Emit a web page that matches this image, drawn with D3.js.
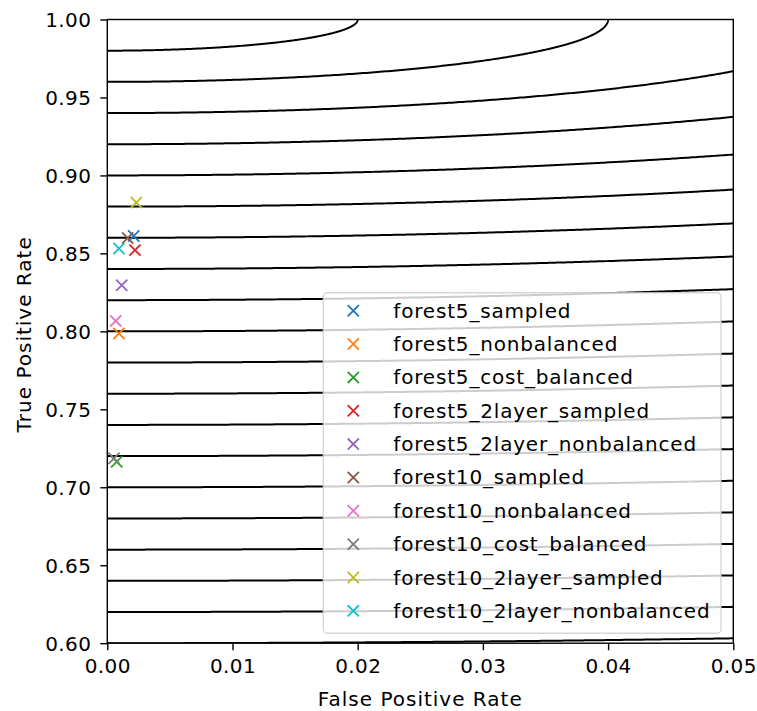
<!DOCTYPE html>
<html>
<head>
<meta charset="utf-8">
<script src="https://cdn.jsdelivr.net/npm/d3@7"></script>
<style>
  html, body { margin: 0; padding: 0; background: #fff; }
  svg { display: block; font-family: "DejaVu Sans", sans-serif; }
</style>
</head>
<body>
<svg id="chart" width="757" height="711"></svg>
<script>
// ---- data ----
const seriesNames = [
  "forest5_sampled", "forest5_nonbalanced", "forest5_cost_balanced",
  "forest5_2layer_sampled", "forest5_2layer_nonbalanced", "forest10_sampled",
  "forest10_nonbalanced", "forest10_cost_balanced", "forest10_2layer_sampled",
  "forest10_2layer_nonbalanced"
];
const fprValues = [0.00211, 0.00093, 0.00075, 0.00221, 0.00115, 0.00163, 0.00067, 0.00054, 0.00232, 0.00093];
const tprValues = [0.8612, 0.7986, 0.7164, 0.8521, 0.8296, 0.8599, 0.8067, 0.7186, 0.8827, 0.8531];
const seriesColors = ["#1f77b4", "#ff7f0e", "#2ca02c", "#d62728", "#9467bd",
                      "#8c564b", "#e377c2", "#7f7f7f", "#bcbd22", "#17becf"];
// contour levels: distance from the perfect classifier point (FPR=0, TPR=1)
const contourLevels = [0.02, 0.04, 0.06, 0.08, 0.10, 0.12, 0.14, 0.16, 0.18, 0.20,
                       0.22, 0.24, 0.26, 0.28, 0.30, 0.32, 0.34, 0.36, 0.38, 0.40];
const xTicks = [0.00, 0.01, 0.02, 0.03, 0.04, 0.05];
const yTicks = [0.60, 0.65, 0.70, 0.75, 0.80, 0.85, 0.90, 0.95, 1.00];
const xDomain = [0, 0.05];
const yDomain = [0.6, 1.0];

(function () {
// ---- layout ----
const pL = 107.3, pR = 733.3, pT = 19.5, pB = 643.2;
const svg = d3.select("#chart");
const x = d3.scaleLinear().domain(xDomain).range([pL, pR]);
const y = d3.scaleLinear().domain(yDomain).range([pB, pT]);

svg.append("defs").append("clipPath").attr("id", "plotclip")
  .append("rect").attr("x", pL).attr("y", pT)
  .attr("width", pR - pL).attr("height", pB - pT);

// ---- contour lines (level sets of distance to (0,1)) ----
const contourG = svg.append("g").attr("clip-path", "url(#plotclip)");
const line = d3.line().x(d => x(d[0])).y(d => y(d[1]));
contourLevels.forEach(r => {
  const thetaMax = r <= xDomain[1] ? Math.PI / 2 : Math.asin(xDomain[1] / r);
  const pts = d3.range(0, 241).map(i => {
    const t = thetaMax * i / 240;
    return [r * Math.sin(t), 1 - r * Math.cos(t)];
  });
  contourG.append("path").attr("d", line(pts))
    .attr("fill", "none").attr("stroke", "#000").attr("stroke-width", 2);
});

// ---- scatter markers ----
const mk = 5.6;
function xMarker(g, cx, cy, color, sw) {
  g.append("path")
    .attr("d", `M${cx - mk},${cy - mk}L${cx + mk},${cy + mk}M${cx - mk},${cy + mk}L${cx + mk},${cy - mk}`)
    .attr("stroke", color).attr("stroke-width", sw).attr("fill", "none");
}
const markG = svg.append("g");
seriesNames.forEach((name, i) => {
  xMarker(markG, x(fprValues[i]), y(tprValues[i]), seriesColors[i], 1.8);
});

// ---- axes ----
const xAxis = d3.axisBottom(x).tickValues(xTicks).tickFormat(d3.format(".2f"))
  .tickSizeInner(7).tickSizeOuter(0).tickPadding(9);
const yAxis = d3.axisLeft(y).tickValues(yTicks).tickFormat(d3.format(".2f"))
  .tickSizeInner(7).tickSizeOuter(0).tickPadding(9);
const gx = svg.append("g").attr("transform", `translate(0,${pB})`).call(xAxis);
const gy = svg.append("g").attr("transform", `translate(${pL},0)`).call(yAxis);
[gx, gy].forEach(g => {
  g.select(".domain").remove();
  g.selectAll(".tick line").attr("stroke", "#000").attr("stroke-width", 1.4);
  g.selectAll(".tick text").attr("fill", "#000").style("font-size", "20px")
    .style("letter-spacing", "0.4px")
    .style("font-family", "DejaVu Sans");
});
gx.selectAll(".tick text").attr("dy", "0.71em");
gy.selectAll(".tick text").attr("dy", "0.35em");

// spines
svg.append("rect").attr("x", pL).attr("y", pT)
  .attr("width", pR - pL).attr("height", pB - pT)
  .attr("fill", "none").attr("stroke", "#000").attr("stroke-width", 1.4);

// axis labels
svg.append("text").attr("x", (pL + pR) / 2).attr("y", 706)
  .attr("text-anchor", "middle").style("font-size", "20px").style("letter-spacing", "1px")
  .text("False Positive Rate");
svg.append("text").attr("transform", `translate(31,${(pT + pB) / 2 + 3}) rotate(-90)`)
  .attr("text-anchor", "middle").style("font-size", "20px").style("letter-spacing", "1px")
  .text("True Positive Rate");

// ---- legend ----
const lg = svg.append("g");
const lx = 323.3, ly = 292.7, lw = 397.7, lh = 340.6;
lg.append("rect").attr("x", lx).attr("y", ly).attr("width", lw).attr("height", lh)
  .attr("rx", 4).attr("ry", 4)
  .attr("fill", "#fff").attr("fill-opacity", 0.8)
  .attr("stroke", "#cccccc").attr("stroke-opacity", 0.8).attr("stroke-width", 1.4);
seriesNames.forEach((name, i) => {
  const cy = 310.7 + i * 33.35;
  xMarker(lg, 353.3, cy, seriesColors[i], 1.8);
  lg.append("text").attr("x", 393.3).attr("y", cy).attr("dy", "0.35em")
    .style("font-size", "20px").style("letter-spacing", "0.82px")
    .attr("fill", "#000").text(name);
});
})();
</script>
</body>
</html>
